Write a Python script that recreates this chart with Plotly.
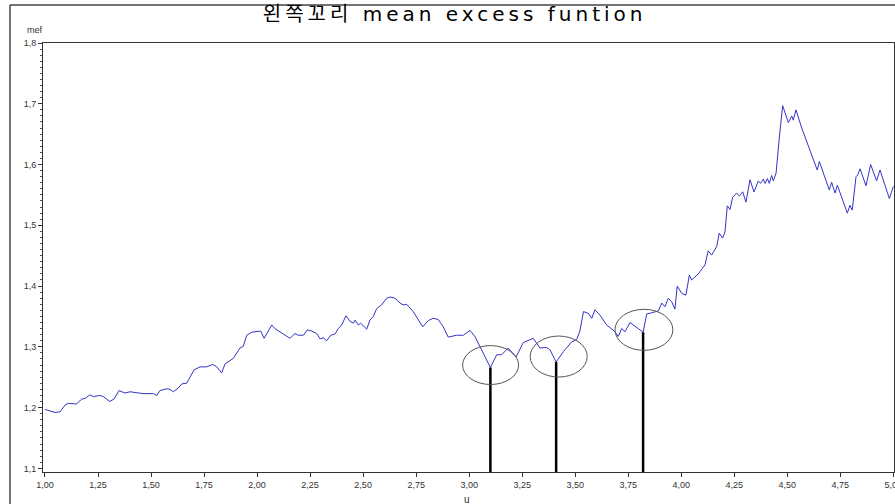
import plotly.graph_objects as go

# threshold u and mean excess function values
u_vals = [1.000, 1.032, 1.047, 1.071, 1.094, 1.110, 1.149, 1.173, 1.189, 1.212,
          1.228, 1.259, 1.275, 1.306, 1.325, 1.349, 1.377, 1.401, 1.432, 1.463,
          1.511, 1.527, 1.542, 1.574, 1.589, 1.605, 1.628, 1.645, 1.668, 1.703,
          1.731, 1.762, 1.791, 1.810, 1.833, 1.849, 1.888, 1.919, 1.935, 1.951,
          1.975, 2.006, 2.017, 2.033, 2.053, 2.069, 2.084, 2.108, 2.155, 2.179,
          2.194, 2.218, 2.237, 2.257, 2.281, 2.297, 2.312, 2.328, 2.347, 2.367,
          2.383, 2.399, 2.419, 2.438, 2.454, 2.462, 2.477, 2.488, 2.517, 2.532,
          2.548, 2.564, 2.587, 2.611, 2.627, 2.650, 2.674, 2.689, 2.705, 2.736,
          2.760, 2.781, 2.807, 2.829, 2.854, 2.878, 2.901, 2.941, 2.972, 3.004,
          3.027, 3.051, 3.100, 3.130, 3.153, 3.184, 3.202, 3.221, 3.255, 3.302,
          3.334, 3.365, 3.381, 3.410, 3.444, 3.483, 3.507, 3.522, 3.539, 3.562,
          3.578, 3.593, 3.617, 3.648, 3.687, 3.703, 3.719, 3.735, 3.758, 3.782,
          3.797, 3.820, 3.837, 3.860, 3.892, 3.908, 3.923, 3.939, 3.955, 3.970,
          3.981, 4.002, 4.022, 4.038, 4.049, 4.080, 4.112, 4.127, 4.143, 4.167,
          4.179, 4.195, 4.206, 4.217, 4.230, 4.242, 4.261, 4.274, 4.290, 4.305,
          4.324, 4.343, 4.363, 4.374, 4.387, 4.395, 4.406, 4.415, 4.426, 4.434,
          4.447, 4.462, 4.478, 4.505, 4.521, 4.528, 4.541, 4.568, 4.622, 4.641,
          4.651, 4.698, 4.709, 4.725, 4.736, 4.783, 4.795, 4.806, 4.824, 4.832,
          4.843, 4.871, 4.893, 4.921, 4.937, 4.981, 5.000]
mef_vals = [1.197, 1.194, 1.192, 1.193, 1.204, 1.207, 1.206, 1.214, 1.215, 1.221,
            1.218, 1.220, 1.218, 1.210, 1.214, 1.228, 1.224, 1.226, 1.225, 1.223,
            1.223, 1.220, 1.228, 1.231, 1.230, 1.226, 1.232, 1.239, 1.240, 1.262,
            1.267, 1.267, 1.271, 1.267, 1.257, 1.272, 1.281, 1.298, 1.301, 1.319,
            1.324, 1.325, 1.326, 1.314, 1.325, 1.336, 1.330, 1.325, 1.314, 1.322,
            1.319, 1.319, 1.328, 1.326, 1.322, 1.313, 1.315, 1.310, 1.319, 1.321,
            1.330, 1.336, 1.351, 1.342, 1.339, 1.344, 1.336, 1.339, 1.329, 1.344,
            1.350, 1.363, 1.369, 1.380, 1.382, 1.380, 1.372, 1.369, 1.370, 1.358,
            1.344, 1.333, 1.343, 1.347, 1.345, 1.333, 1.316, 1.319, 1.319, 1.327,
            1.317, 1.300, 1.266, 1.287, 1.287, 1.298, 1.291, 1.283, 1.307, 1.314,
            1.298, 1.299, 1.295, 1.275, 1.292, 1.308, 1.312, 1.326, 1.358, 1.355,
            1.347, 1.361, 1.352, 1.336, 1.325, 1.317, 1.330, 1.325, 1.340, 1.333,
            1.330, 1.324, 1.354, 1.356, 1.359, 1.372, 1.366, 1.380, 1.374, 1.362,
            1.400, 1.388, 1.385, 1.418, 1.410, 1.420, 1.435, 1.458, 1.451, 1.465,
            1.487, 1.479, 1.489, 1.532, 1.526, 1.546, 1.553, 1.548, 1.555, 1.538,
            1.575, 1.555, 1.573, 1.569, 1.576, 1.569, 1.577, 1.569, 1.582, 1.573,
            1.586, 1.643, 1.697, 1.669, 1.680, 1.673, 1.690, 1.660, 1.607, 1.591,
            1.605, 1.558, 1.571, 1.553, 1.566, 1.520, 1.533, 1.525, 1.580, 1.583,
            1.593, 1.565, 1.600, 1.573, 1.591, 1.544, 1.564]

# marked thresholds (vertical lines up to the curve)
mark_u = [3.100, 3.410, 3.820]
mark_mef = [1.266, 1.275, 1.324]

# circled regions: centre u, centre mef, width (u), height (mef)
circle_u = [3.101, 3.422, 3.824]
circle_mef = [1.270, 1.284, 1.328]
circle_w = [0.264, 0.269, 0.273]
circle_h = [0.064, 0.0675, 0.0675]

x_range = [0.9906, 5.003]
y_range = [1.094, 1.8]

fig = go.Figure()
fig.add_trace(go.Scatter(x=u_vals, y=mef_vals, mode="lines",
                         line=dict(color="#3434c4", width=1), showlegend=False,
                         hoverinfo="skip"))

shapes = []
for xu, ym in zip(mark_u, mark_mef):
    shapes.append(dict(type="line", xref="x", yref="y", x0=xu, x1=xu,
                       y0=y_range[0], y1=ym, line=dict(color="black", width=2.5)))
for cu, cm, cw, ch in zip(circle_u, circle_mef, circle_w, circle_h):
    shapes.append(dict(type="circle", xref="x", yref="y",
                       x0=cu - cw / 2, x1=cu + cw / 2, y0=cm - ch / 2, y1=cm + ch / 2,
                       line=dict(color="#555555", width=1)))
# outer frame (left and top edges of the window)
shapes.append(dict(type="line", xref="paper", yref="paper", x0=-0.0388, x1=1.002,
                   y0=1.0886, y1=1.0886, line=dict(color="#444444", width=1.5)))
shapes.append(dict(type="line", xref="paper", yref="paper", x0=-0.0388, x1=-0.0388,
                   y0=1.0886, y1=-0.08, line=dict(color="#444444", width=1.5)))

tick_font = dict(family="Liberation Sans, Arial, sans-serif", size=9, color="#333333")

fig.update_layout(
    width=895, height=504,
    margin=dict(l=43, r=1, t=43, b=32),
    paper_bgcolor="white", plot_bgcolor="white",
    separators=",.",
    title=dict(
        text='<span style="letter-spacing:4px">왼쪽꼬리 mean excess funtion</span>',
        x=0.508, xanchor="center", y=0.972, yanchor="middle",
        font=dict(family="DejaVu Sans, Noto Sans CJK KR, sans-serif", size=20, color="black")),
    shapes=shapes,
    annotations=[
        dict(text="mef", xref="paper", yref="paper", x=-0.0212, y=1.014, yanchor="bottom",
             showarrow=False, font=dict(family="Liberation Sans, Arial, sans-serif", size=9, color="#333333")),
        dict(text="u", xref="paper", yref="paper", x=0.498, y=-0.0466, yanchor="top",
             showarrow=False, font=dict(family="Liberation Sans, Arial, sans-serif", size=10, color="#333333")),
    ],
    xaxis=dict(range=x_range, tick0=1.0, dtick=0.25, tickformat=".2f",
               ticks="outside", ticklen=4, tickcolor="#333333", showgrid=False,
               zeroline=False, showline=True, linecolor="#333333", linewidth=1,
               mirror=True, tickfont=tick_font, ticklabeloverflow="allow",
               automargin=False),
    yaxis=dict(range=y_range, tick0=1.1, dtick=0.1, tickformat=".1f",
               ticks="outside", ticklen=4, tickcolor="#333333", showgrid=False,
               zeroline=False, showline=True, linecolor="#333333", linewidth=1,
               mirror=True, tickfont=tick_font, automargin=False,
               minor=dict(dtick=0.01, ticks="outside", ticklen=2, tickcolor="#555555",
                          showgrid=False)),
)

fig.write_html("out.html", config={"displayModeBar": False},
               post_script="document.body.style.margin='0';")
